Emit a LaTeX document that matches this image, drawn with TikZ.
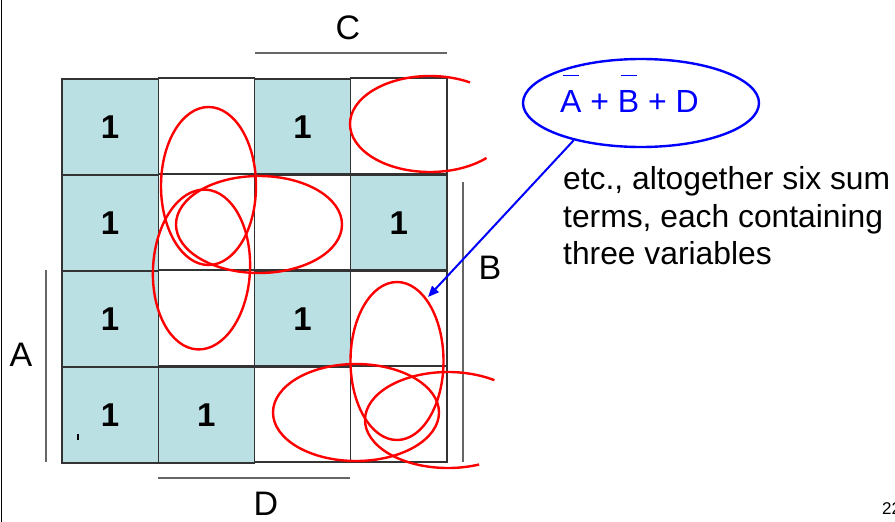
\documentclass[tikz,border=0pt]{standalone}
\usepackage{fontspec}
\setmainfont{Liberation Sans}
\usetikzlibrary{shapes.geometric,arrows.meta}
\definecolor{kfill}{RGB}{187,224,227}
\newcommand\ovl[1]{\ooalign{#1\cr\hidewidth\raisebox{1.13em}{\rule{0.5em}{1.3pt}}\hidewidth\cr}}
\begin{document}
\begin{tikzpicture}[x=1pt,y=-1pt,
  cell/.style={draw=black!80, line width=1.1pt, minimum width=96.25pt, minimum height=96pt, inner sep=0pt, font=\fontsize{33}{36}\selectfont\bfseries},
  on/.style={cell, fill=kfill},
  loop/.style={draw=red, line width=2.4pt, ellipse, inner sep=0pt},
  lbl/.style={font=\fontsize{34}{40}\selectfont, inner sep=0pt},
  lblline/.style={draw=black!60, line width=1.1pt},
  note/.style={font=\fontsize{31.8}{37}\selectfont, anchor=base west, inner sep=0pt}]
\useasboundingbox (0,0) rectangle (895,522);
\fill[white] (0,0) rectangle (895,522);
\draw[black, line width=1.5pt] (1.5,0) -- (1.5,522);
% K-map cells
\node[on]   (c00) at (110.1,127) {1};
\node[cell] (c01) at (206.4,126) {};
\node[on]   (c02) at (302.6,127) {1};
\node[cell] (c03) at (398.9,126) {};
\node[on]   (c10) at (110.1,223) {1};
\node[cell] (c11) at (206.4,222) {};
\node[cell] (c12) at (302.6,222) {};
\node[on]   (c13) at (398.9,223) {1};
\node[on]   (c20) at (110.1,319) {1};
\node[cell] (c21) at (206.4,318) {};
\node[on]   (c22) at (302.6,319) {1};
\node[cell] (c23) at (398.9,318) {};
\node[on]   (c30) at (110.1,415) {1};
\node[on]   (c31) at (206.4,415) {1};
\node[cell] (c32) at (302.6,414) {};
\node[cell] (c33) at (398.9,414) {};
\draw[black, line width=1.2pt] (78,434) -- (78,440);
% variable bars and labels
\draw[lblline] (255,53) -- (447,53);
\draw[lblline] (463,182) -- (463,462);
\draw[lblline] (46,270) -- (46,462);
\draw[lblline] (158,478) -- (350,478);
\node[lbl] (lC) at (348,28) {C};
\node[lbl] (lB) at (490,268) {B};
\node[lbl] (lA) at (21,355) {A};
\node[lbl] (lD) at (266,504) {D};
% red loops
\node[loop, minimum width=95pt, minimum height=158pt] (e1) at (208.5,186) {};
\node[loop, minimum width=166pt, minimum height=97pt] (e2) at (259,224.5) {};
\node[loop, minimum width=97pt, minimum height=160pt, rotate=-3] (e3) at (201.5,269.5) {};
\node[loop, minimum width=93pt, minimum height=158pt] (e4) at (397,361) {};
\node[loop, minimum width=166pt, minimum height=97pt] (e5) at (356,412.5) {};
\draw[red, line width=2.4pt] (430,124) ++(45:80 and 48) arc[start angle=45, end angle=300, x radius=80, y radius=48];
\draw[red, line width=2.4pt] (448,420) ++(68:83 and 48) arc[start angle=68, end angle=304, x radius=83, y radius=48];
% blue annotation
\node[draw=blue, line width=2.4pt, ellipse, minimum width=236pt, minimum height=88pt, inner sep=0pt] (blue) at (641,103) {};
\node[blue, font=\fontsize{32}{36}\selectfont, anchor=base, inner sep=0pt] (expr) at (629.5,112) {\ovl{A} + \ovl{B} + D};
\coordinate (tip) at (428,297);
\draw[blue, line width=2pt, -{Triangle[length=11pt,width=9pt]}] (blue.209) -- (tip);
\node[note] (t1) at (563,189) {etc., altogether six sum};
\node[note] (t2) at (563,227) {terms, each containing};
\node[note] (t3) at (563,264) {three variables};
\node[font=\fontsize{17}{20}\selectfont, anchor=base west, inner sep=0pt] (pg) at (882,514) {22};
\end{tikzpicture}
\end{document}
